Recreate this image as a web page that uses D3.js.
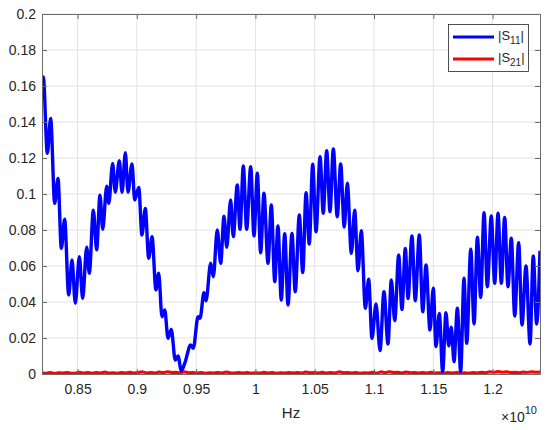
<!DOCTYPE html>
<html>
<head>
<meta charset="utf-8">
<script src="https://cdn.jsdelivr.net/npm/d3@7"></script>
<style>
  html, body { margin: 0; padding: 0; background: #fff; }
  text { font-family: "Liberation Sans", Arial, Helvetica, sans-serif; fill: #262626; }
</style>
</head>
<body>
<svg id="chart" width="550" height="430"></svg>
<script>
// ---- data (frequency in GHz, magnitude) ----
const s11Freq = [8.200,8.211,8.245,8.273,8.307,8.335,8.363,8.391,8.425,8.453,8.481,8.515,8.543,8.577,8.599,8.633,8.661,8.689,8.712,8.746,8.763,8.796,8.818,8.852,8.875,8.903,8.925,8.959,8.982,9.016,9.043,9.071,9.100,9.128,9.161,9.184,9.212,9.235,9.263,9.290,9.324,9.347,9.375,9.404,9.454,9.476,9.516,9.533,9.566,9.583,9.623,9.645,9.678,9.707,9.735,9.758,9.791,9.813,9.847,9.870,9.898,9.926,9.960,9.988,10.016,10.044,10.072,10.106,10.134,10.163,10.190,10.218,10.247,10.275,10.308,10.336,10.370,10.399,10.427,10.454,10.483,10.511,10.545,10.572,10.601,10.629,10.657,10.690,10.719,10.749,10.775,10.809,10.837,10.865,10.893,10.927,10.955,10.983,11.017,11.051,11.084,11.118,11.146,11.175,11.208,11.236,11.264,11.287,11.320,11.348,11.382,11.411,11.439,11.472,11.500,11.523,11.551,11.579,11.607,11.630,11.652,11.675,11.703,11.731,11.759,11.782,11.816,11.844,11.872,11.900,11.928,11.956,11.989,12.018,12.046,12.074,12.102,12.130,12.158,12.187,12.220,12.248,12.282,12.316,12.343,12.372,12.400];
const s11Mag = [0.1615,0.165,0.1226,0.142,0.0948,0.1087,0.0698,0.086,0.0439,0.0633,0.0393,0.0652,0.042,0.0704,0.056,0.091,0.069,0.0994,0.0804,0.1044,0.0948,0.117,0.101,0.1185,0.101,0.123,0.101,0.1167,0.0967,0.1037,0.0772,0.092,0.0643,0.0763,0.0467,0.056,0.0318,0.0356,0.0198,0.0248,0.0078,0.010,0.0018,0.006,0.0161,0.0143,0.0318,0.031,0.0452,0.0407,0.0615,0.054,0.080,0.0615,0.0876,0.0704,0.0967,0.0763,0.105,0.0804,0.1156,0.0804,0.1152,0.0767,0.1115,0.0674,0.1004,0.0615,0.0939,0.0513,0.0822,0.0411,0.078,0.0383,0.0781,0.0457,0.0883,0.0563,0.1007,0.0722,0.1165,0.079,0.1207,0.0893,0.124,0.0902,0.125,0.0874,0.1167,0.0817,0.106,0.067,0.091,0.0574,0.0796,0.0365,0.0526,0.0198,0.0389,0.013,0.0457,0.0167,0.0522,0.0296,0.0661,0.0359,0.0698,0.042,0.0767,0.0407,0.0772,0.0346,0.0606,0.0244,0.0476,0.0152,0.0337,0.0013,0.034,0.0156,0.026,0.0068,0.0365,0.0013,0.0532,0.017,0.0693,0.0278,0.076,0.0426,0.0896,0.0485,0.0878,0.0504,0.0893,0.0504,0.087,0.0485,0.0754,0.0322,0.073,0.0272,0.060,0.0167,0.0656,0.0278,0.0685];
// |S21| read as a noisy trace near zero, sampled evenly from 8.2 to 12.4 GHz
const s21Mag = [0.0006,0.0004,0.0008,0.0003,0.0007,0.0005,0.0009,0.0004,0.0006,0.0010,0.0005,0.0008,0.0004,0.0009,0.0006,0.0011,0.0005,0.0007,0.0004,0.0009,0.0006,0.0010,0.0005,0.0008,0.0012,0.0006,0.0009,0.0005,0.0011,0.0007,0.0013,0.0008,0.0010,0.0006,0.0012,0.0007,0.0009,0.0005,0.0008,0.0004,0.0007,0.0005,0.0009,0.0006,0.0011,0.0007,0.0005,0.0009,0.0006,0.0008,0.0004,0.0007,0.0005,0.0010,0.0006,0.0008,0.0004,0.0007,0.0005,0.0009,0.0006,0.0008,0.0005,0.0011,0.0007,0.0009,0.0006,0.0010,0.0005,0.0008,0.0006,0.0012,0.0007,0.0009,0.0005,0.0008,0.0004,0.0007,0.0006,0.0010,0.0005,0.0012,0.0007,0.0013,0.0008,0.0010,0.0006,0.0011,0.0007,0.0009,0.0005,0.0008,0.0006,0.0010,0.0005,0.0007,0.0004,0.0008,0.0006,0.0009,0.0005,0.0007,0.0004,0.0008,0.0006,0.0010,0.0007,0.0012,0.0009,0.0014,0.0010,0.0012,0.0008,0.0010,0.0007,0.0011,0.0009,0.0012,0.0010,0.0011];
const xTickVals = [0.85,0.9,0.95,1,1.05,1.1,1.15,1.2];   // ×10^10 Hz
const yTickVals = [0,0.02,0.04,0.06,0.08,0.1,0.12,0.14,0.16,0.18,0.2];
const seriesNames = ["11","21"];
const seriesColors = ["#0000ff","#ff0000"];

(function(){
// ---- layout ----
const svg = d3.select("#chart");
const L = 42, R = 540, T = 14, B = 374;
const x = d3.scaleLinear().domain([8.2e9, 12.4e9]).range([L, R]);
const y = d3.scaleLinear().domain([0, 0.2]).range([B, T]);
const axisColor = "#6b6b6b";
const gridColor = "#e3e3e3";

// grid
const grid = svg.append("g");
grid.selectAll("line.gx").data(xTickVals).enter().append("line")
  .attr("x1", d => x(d*1e10)).attr("x2", d => x(d*1e10))
  .attr("y1", T).attr("y2", B).attr("stroke", gridColor).attr("stroke-width", 1);
grid.selectAll("line.gy").data(yTickVals).enter().append("line")
  .attr("y1", d => y(d)).attr("y2", d => y(d))
  .attr("x1", L).attr("x2", R).attr("stroke", gridColor).attr("stroke-width", 1);

// data lines
svg.append("clipPath").attr("id","clip").append("rect")
  .attr("x", L).attr("y", T-3).attr("width", R-L).attr("height", B-T+6);

const s11 = s11Freq.map((f,i) => [f*1e9, s11Mag[i]]);
const s21 = s21Mag.map((v,i) => [8.2e9 + i*(4.2e9/(s21Mag.length-1)), v]);

const line = d3.line().x(d => x(d[0])).y(d => y(d[1])).curve(d3.curveMonotoneX);
const lineLin = d3.line().x(d => x(d[0])).y(d => y(d[1]));

const plot = svg.append("g").attr("clip-path","url(#clip)");
plot.append("path").attr("d", lineLin(s21)).attr("fill","none")
  .attr("stroke", seriesColors[1]).attr("stroke-width", 3).attr("stroke-linejoin","round");
plot.append("path").attr("d", line(s11)).attr("fill","none")
  .attr("stroke", seriesColors[0]).attr("stroke-width", 3.4).attr("stroke-linejoin","round");

// axes (MATLAB-style box with inward ticks)
const fmtX = d => d3.format("~g")(d);
const axB = d3.axisBottom(x).tickValues(xTickVals.map(v=>v*1e10)).tickSize(-5).tickPadding(10)
  .tickFormat(d => fmtX(+(d/1e10).toFixed(2)));
const axT = d3.axisTop(x).tickValues(xTickVals.map(v=>v*1e10)).tickSize(-5).tickFormat("");
const axL = d3.axisLeft(y).tickValues(yTickVals).tickSize(-5).tickPadding(6)
  .tickFormat(d => d3.format("~g")(+d.toFixed(2)));
const axR = d3.axisRight(y).tickValues(yTickVals).tickSize(-5).tickFormat("");

function style(g){
  g.select(".domain").attr("stroke", axisColor).attr("stroke-width", 1);
  g.selectAll(".tick line").attr("stroke", axisColor);
  g.selectAll(".tick text").attr("font-size", 14).attr("fill", "#262626")
    .attr("font-family", '"Liberation Sans", Arial, sans-serif');
}
svg.append("g").attr("transform", `translate(0,${B})`).call(axB).call(style);
svg.append("g").attr("transform", `translate(0,${T})`).call(axT).call(style);
svg.append("g").attr("transform", `translate(${L},0)`).call(axL).call(style);
svg.append("g").attr("transform", `translate(${R},0)`).call(axR).call(style);

// axis labels
svg.append("text").attr("x", (L+R)/2).attr("y", 418).attr("text-anchor","middle")
  .attr("font-size", 15).text("Hz");
const ex = svg.append("text").attr("x", 501).attr("y", 422).attr("font-size", 14);
ex.append("tspan").text("\u00d710");
ex.append("tspan").attr("dy", -8).attr("font-size", 11).text("10");

// legend
const lg = svg.append("g");
lg.append("rect").attr("x", 448.5).attr("y", 24.5).attr("width", 80).attr("height", 47)
  .attr("fill", "#fff").attr("stroke", "#262626").attr("stroke-width", 0.8);
seriesNames.forEach((n, i) => {
  const yy = 37 + i*22;
  lg.append("line").attr("x1", 453).attr("x2", 494).attr("y1", yy).attr("y2", yy)
    .attr("stroke", seriesColors[i]).attr("stroke-width", 3);
  const t = lg.append("text").attr("x", 498).attr("y", yy + 3).attr("font-size", 13);
  t.append("tspan").text("|S");
  t.append("tspan").attr("dy", 4).attr("font-size", 10).text(n);
  t.append("tspan").attr("dy", -4).text("|");
});
})();
</script>
</body>
</html>
